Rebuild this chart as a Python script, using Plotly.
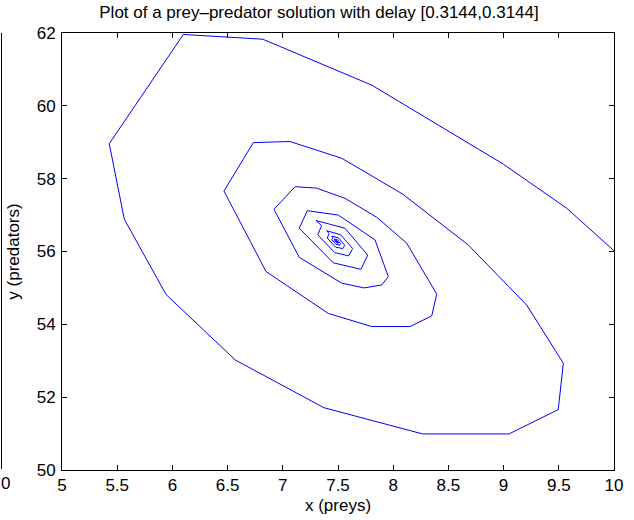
import plotly.graph_objects as go

# prey (x) and predator (y) trajectory
x_preys = [10.0, 9.571, 8.997, 7.805, 6.818, 6.099, 5.428, 5.564, 5.942, 6.570,
           7.373, 8.267, 9.049, 9.495, 9.541, 9.209, 8.680, 8.084, 7.534, 7.065,
           6.733, 6.467, 6.848, 7.412, 7.805, 8.152, 8.349, 8.394, 8.122, 7.851,
           7.563, 7.307, 7.111, 6.920, 7.149, 7.534, 7.736, 7.896, 7.956, 7.835,
           7.503, 7.222, 7.149, 7.457, 7.708, 7.769, 7.563, 7.301,
           7.352, 7.316, 7.470, 7.597, 7.633, 7.524, 7.398,
           7.420, 7.402, 7.479, 7.543, 7.561, 7.506, 7.443,
           7.453, 7.444, 7.482, 7.514, 7.523, 7.496, 7.464,
           7.470, 7.466, 7.485, 7.500, 7.505, 7.492, 7.478,
           7.479, 7.477, 7.486, 7.494, 7.496, 7.490, 7.483, 7.487]
y_predators = [56.02, 57.19, 58.40, 60.57, 61.83, 61.96, 58.96, 56.89, 54.82, 53.02,
               51.71, 50.99, 50.99, 51.66, 52.93, 54.53, 56.18, 57.58, 58.56, 59.02,
               58.99, 57.66, 55.45, 54.30, 53.94, 53.94, 54.23, 54.83, 56.23, 56.94,
               57.46, 57.74, 57.78, 57.16, 55.84, 55.13, 55.00, 55.08, 55.31, 56.32,
               57.00, 57.12, 56.64, 55.69, 55.51, 55.90, 56.64, 56.85,
               56.71, 56.46, 55.97, 55.88, 56.08, 56.46, 56.57,
               56.49, 56.37, 56.12, 56.08, 56.17, 56.37, 56.42,
               56.38, 56.32, 56.20, 56.17, 56.22, 56.32, 56.34,
               56.33, 56.30, 56.24, 56.22, 56.25, 56.29, 56.30,
               56.30, 56.285, 56.255, 56.245, 56.26, 56.28, 56.285, 56.27]

x_ticks = [5, 5.5, 6, 6.5, 7, 7.5, 8, 8.5, 9, 9.5, 10]
x_tick_labels = ["5", "5.5", "6", "6.5", "7", "7.5", "8", "8.5", "9", "9.5", "10"]
y_ticks = [50, 52, 54, 56, 58, 60, 62]
y_tick_labels = ["50", "52", "54", "56", "58", "60", "62"]

FONT = "Liberation Sans, Arial, Helvetica, sans-serif"

fig = go.Figure()
fig.add_trace(go.Scatter(x=x_preys, y=y_predators, mode="lines",
                         line=dict(color="#0000ff", width=1), showlegend=False,
                         hoverinfo="x+y"))

axis_common = dict(showgrid=False, zeroline=False, showline=True, linecolor="black",
                   linewidth=1, mirror="ticks", ticks="inside", ticklen=5,
                   tickcolor="black", automargin=False,
                   tickfont=dict(family=FONT, size=17, color="black"))

fig.update_layout(
    width=634, height=520,
    margin=dict(l=62, r=20, t=33, b=50),
    paper_bgcolor="white", plot_bgcolor="white",
    font=dict(family=FONT, size=16, color="black"),
    title=dict(text="Plot of a prey\u2013predator solution with delay [0.3144,0.3144]",
               x=319 / 634, xanchor="center", xref="container",
               y=1 - 12 / 520, yanchor="middle",
               yref="container", font=dict(family=FONT, size=17, color="black")),
    xaxis=dict(range=[5, 10], tickvals=x_ticks, ticktext=x_tick_labels,
               title=dict(text="x (preys)", standoff=4,
                          font=dict(family=FONT, size=17, color="black")),
               **axis_common),
    yaxis=dict(range=[50, 62], tickvals=y_ticks, ticktext=y_tick_labels,
               ticklabelstandoff=2,
               title=dict(text="y (predators)", standoff=12,
                          font=dict(family=FONT, size=17, color="black")),
               **axis_common),
)

# stray axis fragment at the far left of the original figure
fig.add_shape(type="line", xref="paper", yref="paper",
              x0=(1.5 - 62) / 552, x1=(1.5 - 62) / 552, y0=(470 - 469) / 437, y1=1,
              line=dict(color="black", width=1))
fig.add_annotation(text="0", xref="paper", yref="paper", x=(5 - 62) / 552,
                   y=(470 - 484) / 437, showarrow=False, xanchor="center",
                   yanchor="middle", font=dict(family=FONT, size=17, color="black"))

fig.write_html("out.html")
